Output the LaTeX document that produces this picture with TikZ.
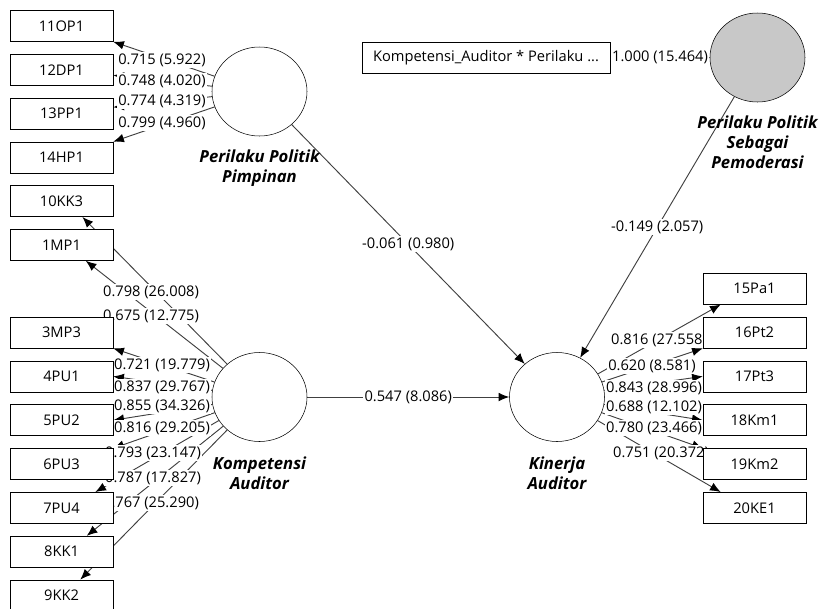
\documentclass[tikz,border=0pt]{standalone}
\usepackage{fontspec}
\setmainfont{Open Sans}
\usetikzlibrary{arrows.meta,positioning,shapes.geometric}
\pgfdeclarelayer{background}
\pgfsetlayers{background,main}
\definecolor{modfill}{RGB}{200,200,200}

\begin{document}
\begin{tikzpicture}[
    x=0.75pt, y=-0.75pt,
    every node/.style={font=\fontsize{11}{13}\selectfont},
    ind/.style={draw, fill=white, minimum width=77.25pt, minimum height=23.25pt, inner sep=0pt},
    lv/.style={ellipse, draw, minimum width=71.25pt, minimum height=66.75pt},
    lvname/.style={align=center, font=\fontsize{12.5}{15}\selectfont\bfseries\itshape, inner sep=1pt},
    coef/.style={fill=white, inner sep=1pt},
    arr/.style={draw=black!75, line width=0.7pt, -{Latex[length=8pt,width=6.5pt,color=black]}},
  ]
\useasboundingbox (0,0) rectangle (819,608);

\foreach \n/\r in {11OP1/0,12DP1/1,13PP1/2,14HP1/3,10KK3/4,1MP1/5,3MP3/7,4PU1/8,5PU2/9,6PU3/10,7PU4/11,8KK1/12,9KK2/13}
  \node[ind] (\n) at (61.5,{26+43.8*\r}) {\n};
\foreach \n/\r in {15Pa1/6,16Pt2/7,17Pt3/8,18Km1/9,19Km2/10,20KE1/11}
  \node[ind] (\n) at (754.5,{26+43.8*\r}) {\n};

\node[lv] (PPP) at (259.5,91.5) {};
\node[lvname, below=9pt of PPP] (PPPname) {Perilaku Politik\\Pimpinan};
\node[lv] (KA) at (259.5,397) {};
\node[lvname, below=10pt of KA] (KAname) {Kompetensi\\Auditor};
\node[lv] (KIN) at (557,397) {};
\node[lvname, below=10pt of KIN] (KINname) {Kinerja\\Auditor};
\node[lv, fill=modfill] (MOD) at (757.5,57.5) {};
\node[lvname, below=9pt of MOD] (MODname) {Perilaku Politik\\Sebagai\\Pemoderasi};
\node[ind, minimum width=186pt] (KAxPP) at (486,58) {Kompetensi\_Auditor * Perilaku ...};

\begin{pgfonlayer}{background}
\draw[arr] (PPP) -- (11OP1.south east);
\draw[arr] (PPP) -- (12DP1.-6);
\draw[arr] (PPP) -- (13PP1.7);
\draw[arr] (PPP) -- (14HP1.north east);
\draw[arr] (KA) -- (10KK3.-37);
\draw[arr] (KA) -- (1MP1.-33);
\draw[arr] (KA) -- (3MP3.south east);
\draw[arr] (KA) -- (4PU1.east);
\draw[arr] (KA) -- (5PU2.east);
\draw[arr] (KA) -- (6PU3.north east);
\draw[arr] (KA) -- (7PU4.25);
\draw[arr] (KA) -- (8KK1.32);
\draw[arr] (KA) -- (9KK2.40);
\draw[arr] (KIN) -- (15Pa1.205);
\draw[arr] (KIN) -- (16Pt2.south west);
\draw[arr] (KIN) -- (17Pt3.west);
\draw[arr] (KIN) -- (18Km1.west);
\draw[arr] (KIN) -- (19Km2.north west);
\draw[arr] (KIN) -- (20KE1.155);
\draw[arr] (PPP) -- node[coef] (pPPP) {-0.061 (0.980)} (KIN);
\draw[arr] (KA) -- node[coef] (pKA) {0.547 (8.086)} (KIN);
\draw[arr] (MOD) -- node[coef] (pMOD) {-0.149 (2.057)} (KIN);
\draw[arr] (MOD) -- node[coef] (wMOD) {1.000 (15.464)} (KAxPP);

\node[coef] (w11) at (162,60) {0.715 (5.922)};
\node[coef] (w12) at (162,81) {0.748 (4.020)};
\node[coef] (w13) at (162,101) {0.774 (4.319)};
\node[coef] (w14) at (162,123) {0.799 (4.960)};
\node[coef] (w10) at (151,292) {0.798 (26.008)};
\node[coef] (w1) at (151,316) {0.675 (12.775)};
\node[coef] (w3) at (162,365) {0.721 (19.779)};
\node[coef] (w4) at (162,387) {0.837 (29.767)};
\node[coef] (w5) at (162,406) {0.855 (34.326)};
\node[coef] (w6) at (162,428) {0.816 (29.205)};
\node[coef] (w7) at (153,453) {0.793 (23.147)};
\node[coef] (w8) at (153,478) {0.787 (17.827)};
\node[coef] (w9) at (151,503) {0.767 (25.290)};
\node[coef] (w15) at (659,340) {0.816 (27.558)};
\node[coef] (w16) at (652,366) {0.620 (8.581)};
\node[coef] (w17) at (654,388) {0.843 (28.996)};
\node[coef] (w18) at (654,407) {0.688 (12.102)};
\node[coef] (w19) at (654,428) {0.780 (23.466)};
\node[coef] (w20) at (661,453) {0.751 (20.372)};
\end{pgfonlayer}
\end{tikzpicture}
\end{document}
